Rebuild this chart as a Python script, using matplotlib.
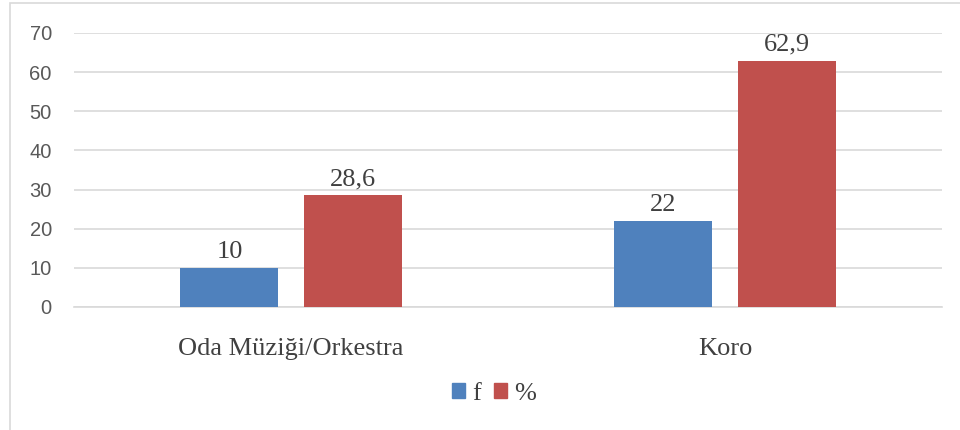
import matplotlib.pyplot as plt
import matplotlib.patches as mpatches
import numpy as np

categories = ['Oda Müziği/Orkestra', 'Koro']
f_values = [10, 22]
pct_values = [28.6, 62.9]
f_labels = ['10', '22']
pct_labels = ['28,6', '62,9']
y_ticks = [0, 10, 20, 30, 40, 50, 60, 70]

blue = '#4f81bd'
red = '#c0504d'
grid_col = '#d9d9d9'
serif = ['Liberation Serif', 'DejaVu Serif']

fig = plt.figure(figsize=(9.6, 4.3), dpi=100)
ax = fig.add_axes([74 / 960, 1 - 307 / 430, 868 / 960, 274 / 430])

x = np.arange(len(categories))
w = 0.226
off = 0.142
b1 = ax.bar(x - off, f_values, w, color=blue, zorder=3)
b2 = ax.bar(x + off, pct_values, w, color=red, zorder=3)

for bars, labels in ((b1, f_labels), (b2, pct_labels)):
    for bar, lab in zip(bars, labels):
        ax.text(bar.get_x() + bar.get_width() / 2, bar.get_height() + 1.3, lab,
                ha='center', va='bottom', fontsize=19, family=serif, color='#404040')

ax.set_xlim(-0.5, 1.5)
ax.set_ylim(0, 70)
ax.set_yticks(y_ticks)
ax.set_yticklabels([str(t) for t in y_ticks], fontsize=14.5, family='Liberation Sans', color='#595959')
ax.set_xticks(x)
ax.set_xticklabels(categories, fontsize=19, family=serif, color='#404040')
ax.tick_params(axis='y', length=0, pad=16)
ax.tick_params(axis='x', length=0, pad=22)
ax.grid(axis='y', color=grid_col, linewidth=1.2, zorder=0)
for s in ['top', 'right', 'left']:
    ax.spines[s].set_visible(False)
ax.spines['bottom'].set_color(grid_col)
ax.spines['bottom'].set_linewidth(1.2)

handles = [mpatches.Patch(color=blue, label='f'), mpatches.Patch(color=red, label='%')]
leg = fig.legend(handles=handles, loc='center', bbox_to_anchor=(494 / 960, 1 - 394 / 430),
                 ncol=2, frameon=False, handlelength=0.5, handleheight=0.5,
                 handletextpad=0.25, columnspacing=0.5, prop={'family': serif, 'size': 19})
for t in leg.get_texts():
    t.set_color('#404040')

fig.patches.append(mpatches.Rectangle((10 / 960, -0.05), 1.1, 1 - 3 / 430 + 0.05, transform=fig.transFigure,
                                      fill=False, edgecolor=grid_col, linewidth=1.2))

fig.savefig('out.png', dpi=100)
